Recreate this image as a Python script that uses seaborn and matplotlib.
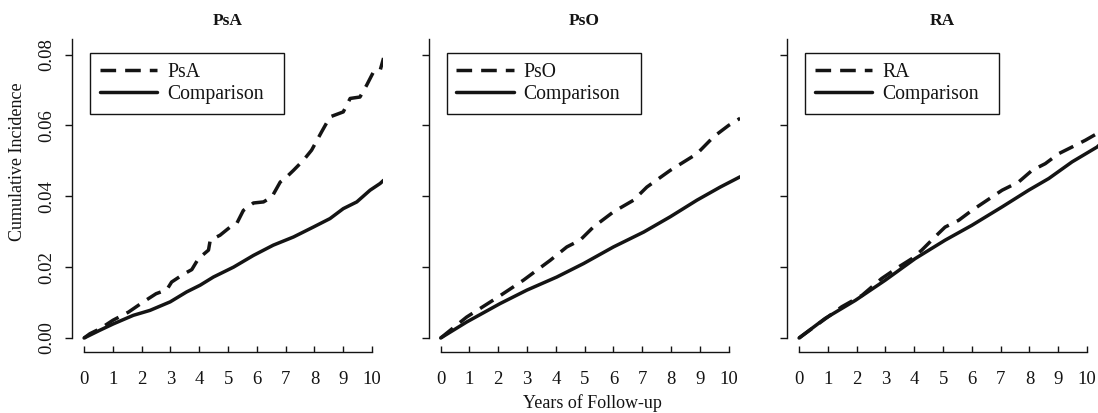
import numpy as np
import pandas as pd
import matplotlib
matplotlib.use("Agg")
import matplotlib.pyplot as plt
import seaborn as sns

# ---- data ----
panels = ["PsA", "PsO", "RA"]

psa_x = [0, 0.2, 0.55, 1.0, 1.54, 2.06, 2.5, 2.87, 3.04, 3.45, 3.74, 3.97, 4.32, 4.38, 4.72,
         5.07, 5.3, 5.53, 5.88, 6.23, 6.52, 6.81, 7.04, 7.27, 7.62, 7.9, 8.25, 8.54, 9.0,
         9.24, 9.58, 9.81, 10.05, 10.28, 10.4]
psa_y = [0, 0.0012, 0.0026, 0.005, 0.0073, 0.0102, 0.0125, 0.0136, 0.0158, 0.018, 0.0193,
         0.0224, 0.0248, 0.0276, 0.029, 0.0313, 0.0323, 0.036, 0.0381, 0.0384, 0.0398, 0.044,
         0.0455, 0.0473, 0.0502, 0.053, 0.0582, 0.0624, 0.0638, 0.0676, 0.068, 0.0713, 0.0751,
         0.0755, 0.079]
psa_cmp_x = [0, 0.55, 1.02, 1.71, 2.29, 2.99, 3.56, 4.03, 4.49, 5.19, 5.88, 6.57, 7.27, 7.96,
             8.54, 9.0, 9.47, 9.93, 10.28, 10.4]
psa_cmp_y = [0, 0.0022, 0.004, 0.0064, 0.0078, 0.0102, 0.013, 0.0149, 0.0172, 0.02, 0.0233,
             0.0262, 0.0285, 0.0313, 0.0337, 0.0365, 0.0384, 0.0417, 0.0436, 0.0445]

pso_x = [0, 0.9, 2.0, 2.87, 3.8, 4.38, 4.84, 5.3, 6.0, 6.7, 7.16, 7.97, 8.9, 9.48, 10.0, 10.4]
pso_y = [0, 0.0059, 0.0116, 0.0163, 0.0219, 0.0257, 0.0276, 0.0313, 0.0356, 0.0389, 0.0426,
         0.0473, 0.052, 0.0568, 0.06, 0.062]
pso_cmp_x = [0, 0.9, 2.06, 2.99, 4.03, 4.96, 6.0, 7.05, 7.97, 8.9, 9.71, 10.4]
pso_cmp_y = [0, 0.0045, 0.0097, 0.0135, 0.0172, 0.021, 0.0257, 0.0299, 0.0342, 0.0389,
             0.0426, 0.0455]

ra_x = [0, 0.67, 1.48, 2.18, 2.87, 3.45, 3.92, 4.26, 4.84, 5.07, 5.54, 6.0, 6.7, 7.05, 7.62,
        8.09, 8.55, 9.01, 9.48, 9.94, 10.35, 10.4]
ra_y = [0, 0.004, 0.0088, 0.012, 0.0168, 0.02, 0.0224, 0.0248, 0.0295, 0.0313, 0.0332, 0.036,
        0.0398, 0.0417, 0.044, 0.0473, 0.0492, 0.052, 0.0539, 0.0558, 0.0577, 0.058]
ra_cmp_x = [0, 0.9, 1.95, 2.99, 4.03, 5.07, 6.0, 7.05, 7.97, 8.67, 9.48, 10.35, 10.4]
ra_cmp_y = [0, 0.0055, 0.0106, 0.0163, 0.0224, 0.0276, 0.0318, 0.037, 0.0417, 0.045, 0.0497,
            0.0539, 0.0543]

x_ticks = [0, 1, 2, 3, 4, 5, 6, 7, 8, 9, 10]
y_ticks = [0.00, 0.02, 0.04, 0.06, 0.08]
y_tick_labels = ["0.00", "0.02", "0.04", "0.06", "0.08"]

series = {
    "PsA": ((psa_x, psa_y), (psa_cmp_x, psa_cmp_y)),
    "PsO": ((pso_x, pso_y), (pso_cmp_x, pso_cmp_y)),
    "RA": ((ra_x, ra_y), (ra_cmp_x, ra_cmp_y)),
}

# ---- style ----
sns.set_style("ticks")
plt.rcParams["font.family"] = ["Liberation Serif", "DejaVu Serif"]
plt.rcParams["axes.linewidth"] = 1.0

W, H = 1098, 413
fig = plt.figure(figsize=(W / 100, H / 100), dpi=100)

ink = "#141414"
lefts = [72, 428.6, 787]
ax_w, top_px, bot_px = 311, 39, 352
ax_h = bot_px - top_px
xlim = (-0.42, 10.38)
y0_px, y08_px = 338, 54.5
scale = (y0_px - y08_px) / 0.08
ylim = ((y0_px - bot_px) / scale, (y0_px - top_px) / scale)

# legend box in pixels relative to the axes' left edge
leg_x0, leg_x1, leg_top, leg_bot = 18, 212, 52.7, 114

for i, (name, left) in enumerate(zip(panels, lefts)):
    ax = fig.add_axes([left / W, (H - bot_px) / H, ax_w / W, ax_h / H])
    (dx, dy), (cx, cy) = series[name]
    sns.lineplot(x=dx, y=dy, ax=ax, color=ink, lw=2.5, linestyle=(0, (4.5, 2.6)),
                 label=name, sort=False, estimator=None)
    sns.lineplot(x=cx, y=cy, ax=ax, color=ink, lw=2.5, label="Comparison",
                 sort=False, estimator=None)
    ax.set_xlim(*xlim)
    ax.set_ylim(*ylim)
    for s in ["top", "right"]:
        ax.spines[s].set_visible(False)
    ax.spines["left"].set_bounds(0, ylim[1])
    ax.spines["bottom"].set_bounds(0, 10)
    ax.spines["left"].set_color(ink)
    ax.spines["bottom"].set_color(ink)
    ax.set_xticks(x_ticks)
    ax.set_xticklabels([str(t) for t in x_ticks])
    ax.set_yticks(y_ticks)
    ax.tick_params(axis="x", direction="in", length=4.5, width=1, colors=ink,
                   labelsize=13.5, pad=13.5)
    ax.tick_params(axis="y", direction="out", length=5, width=1, colors=ink,
                   labelsize=13.5, pad=7)
    if i == 0:
        ax.set_yticklabels(y_tick_labels)
        for lbl in ax.get_yticklabels():
            lbl.set_rotation(90)
            lbl.set_va("center")
    else:
        ax.set_yticklabels([])
    ax.set_xlabel("")
    ax.set_ylabel("")
    ax.text(0.5, (bot_px - 21) / ax_h, name, transform=ax.transAxes,
            ha="center", va="center", fontsize=12.5, fontweight="bold", color=ink)
    bx = leg_x0 / ax_w
    bw = (leg_x1 - leg_x0) / ax_w
    by = (bot_px - leg_bot) / ax_h
    bh = (leg_bot - leg_top) / ax_h
    leg = ax.legend(loc="upper left", bbox_to_anchor=(bx, by, bw, bh), mode="expand",
                    borderaxespad=0, fontsize=14.2, handlelength=2.9, handletextpad=0.5,
                    labelspacing=0.16, borderpad=0.5, fancybox=False, framealpha=1,
                    edgecolor=ink)
    leg.get_frame().set_linewidth(1.0)
    for t in leg.get_texts():
        t.set_color(ink)

fig.text(17.5 / W, 1 - 162 / H, "Cumulative Incidence", rotation=90, ha="center",
         va="center", fontsize=13, color=ink)
fig.text(592 / W, 1 - 403 / H, "Years of Follow-up", ha="center", va="center",
         fontsize=13, color=ink)

fig.savefig("out.png", dpi=100, facecolor="white")
